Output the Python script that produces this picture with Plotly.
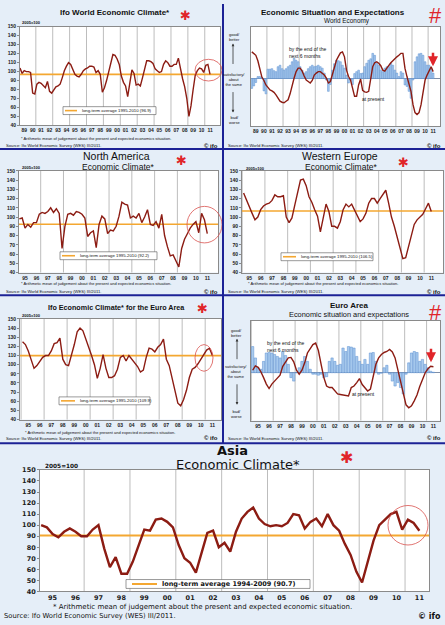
import plotly.graph_objects as go

W, H = 445, 625
FONT = "Liberation Sans"
WIDE = "DejaVu Sans"
DARKRED = "#8c1c13"
ORANGE = "#f4a731"
BARFILL = "#a9cbee"
BAREDGE = "#5b8fd1"
BG = "#e5eef8"
DIVIDER = "#1c2296"
AXIS = "#8a8a8a"

years_89 = list(range(1989, 2012))
years_95 = list(range(1995, 2012))

# quarterly values, first quarter of the first year up to Q3 2011
world_climate = [104, 98, 101, 100, 100, 99, 76, 75, 86, 88, 87, 84, 82, 89, 78, 76,
                 80, 83, 84, 86, 93, 101, 106, 110, 108, 102, 97, 95, 94, 97, 101, 103,
                 104, 106, 106, 105, 99, 101, 97, 77, 82, 90, 100, 107, 119, 118, 114, 108,
                 95, 88, 84, 72, 86, 102, 98, 85, 86, 84, 93, 103, 112, 112, 111, 109,
                 103, 101, 99, 100, 108, 112, 110, 106, 106, 108, 108, 115, 102, 92, 83, 70,
                 50, 62, 80, 96, 101, 104, 103, 99, 107, 108, 97]
world_expect = [-20, -15, -8, 4, 4, 2, -25, -31, 19, 19, 20, 16, 14, 24, 27, 20,
                17, 20, 24, 27, 34, 41, 37, 34, 24, 17, 11, 14, 20, 24, 27, 24,
                25, 27, 24, 21, 11, -3, -26, -12, 17, 30, 37, 36, 34, 27, 21, 7,
                -9, -3, -12, 10, 14, 17, 10, 11, 24, 31, 37, 40, 51, 47, 31, 27,
                17, 14, 21, 24, 24, 31, 27, 17, 11, 4, 14, 11, -13, -16, -26, -40,
                -3, 34, 44, 50, 51, 47, 34, 27, 27, 21, 11]
world_present = [54, 51, 47, 36, 17, 3, -4, -13, -18, -23, -25, -28, -33, -41, -46, -48,
                 -49, -46, -43, -31, -13, 1, 14, 21, 21, 15, 5, -3, -6, -9, -4, 7,
                 11, 14, 14, 11, 7, 1, -9, -6, 7, 23, 37, 45, 52, 54, 44, 17,
                 4, -3, -19, -36, -36, -13, -1, -24, -27, -28, -26, 4, 24, 32, 34, 31,
                 26, 17, 15, 21, 27, 32, 36, 41, 44, 47, 51, 51, 21, 4, -9, -26,
                 -53, -69, -73, -69, -53, -29, -3, 7, 17, 24, 14]
na_climate = [98, 99, 88, 92, 89, 94, 94, 103, 105, 104, 106, 110, 105, 109, 104, 66,
              90, 103, 104, 102, 106, 105, 103, 99, 79, 83, 85, 67, 92, 101, 98, 82,
              86, 85, 90, 101, 116, 114, 113, 99, 101, 99, 104, 94, 100, 108, 92, 91,
              95, 88, 103, 80, 68, 58, 59, 52, 46, 66, 76, 82, 88, 92, 95, 83,
              104, 97, 82]
we_climate = [126, 118, 111, 104, 97, 100, 108, 112, 114, 115, 118, 124, 122, 122, 123, 100,
              94, 99, 113, 126, 140, 141, 134, 122, 116, 108, 101, 84, 100, 114, 106, 90,
              90, 88, 95, 108, 114, 111, 114, 108, 101, 95, 98, 104, 115, 120, 120, 115,
              120, 125, 129, 115, 100, 90, 79, 66, 55, 56, 68, 80, 92, 97, 100, 103,
              109, 115, 106]
ea_climate = [125, 122, 115, 105, 96, 99, 104, 108, 110, 110, 115, 123, 124, 129, 106, 100,
              99, 110, 122, 136, 140, 137, 128, 121, 110, 100, 85, 96, 111, 96, 86, 86,
              88, 95, 108, 110, 104, 110, 106, 102, 98, 92, 94, 108, 118, 117, 114, 119,
              122, 128, 106, 99, 85, 71, 58, 55, 62, 72, 86, 95, 97, 101, 106, 112,
              116, 118, 110]
ea_expect = [53, 30, 10, 7, 23, 40, 41, 40, 37, 33, 30, 43, 35, 17, -10, -17,
             0, 10, 23, 33, 23, 7, -3, -3, -5, -3, -10, -8, 23, 30, 23, 15,
             17, 50, 43, 53, 52, 50, 33, 23, 17, 27, 17, 40, 41, 23, -3, -1,
             10, 15, -3, -17, -27, -20, -30, -43, -3, 20, 40, 43, 41, 23, 27, 17,
             10, 3, 1]
ea_present = [5, 14, 11, 2, -10, -23, -32, -23, -17, -12, -5, 13, 21, 30, 31, 22,
              5, -3, 5, 20, 40, 48, 57, 60, 45, 17, -10, -27, -30, -30, -37, -43,
              -44, -45, -47, -47, -30, -27, -20, -12, -24, -30, -37, -33, -10, 17, 30, 37,
              41, 43, 47, 42, 30, 5, -20, -47, -65, -71, -67, -57, -45, -28, -12, 0,
              8, 13, 12]
asia_climate = [100, 98, 92, 89, 94, 97, 94, 90, 90, 96, 100, 79, 62, 71, 56, 56,
                67, 82, 96, 95, 105, 106, 103, 98, 82, 70, 66, 57, 75, 93, 95, 80,
                84, 76, 94, 106, 112, 116, 106, 101, 99, 100, 99, 102, 110, 109, 97, 103,
                106, 99, 110, 100, 95, 83, 73, 58, 48, 68, 86, 100, 105, 110, 112, 96,
                105, 102, 95]

avg_world = 96.9
avg_na = 92.2
avg_we = 106.5
avg_ea = 109.9
avg_asia = 90.7


def qx(start, n):
    return [start + i / 4 for i in range(n)]


def px(x):
    return x / W


def py(y):
    return 1 - y / H


fig = go.Figure()
shapes = []
annotations = []


def txt(x, y, s, size, bold=False, xanchor="center", family=FONT, color="#111", align="center"):
    annotations.append(dict(
        x=px(x), y=py(y), xref="paper", yref="paper", text=s, showarrow=False,
        xanchor=xanchor, yanchor="middle", align=align,
        font=dict(family=family, size=size, color=color, weight="bold" if bold else "normal")))


def arrow(x, y, dy, color, width, size):
    annotations.append(dict(
        x=px(x), y=py(y), xref="paper", yref="paper", text="", showarrow=True,
        ax=0, ay=dy, arrowhead=2, arrowsize=size, arrowwidth=width, arrowcolor=color))


def add_axes(i, box, xr, years, yr=(40, 150), climate=True, fsize=5, family=FONT):
    x0, x1, y0, y1 = box
    xr_name = "x" if i == 1 else f"x{i}"
    yr_name = "y" if i == 1 else f"y{i}"
    tf = dict(family=family, size=fsize, color="#1a1a1a", weight="bold")
    fig.layout["xaxis" if i == 1 else f"xaxis{i}"] = dict(
        domain=[px(x0), px(x1)], range=list(xr), anchor=yr_name,
        tickvals=[y + 0.5 for y in years], ticktext=[f"{y % 100:02d}" for y in years],
        showgrid=False, zeroline=False, showline=True, mirror=True, linecolor=AXIS,
        linewidth=1, ticks="", tickfont=tf, fixedrange=True)
    ydict = dict(
        domain=[py(y1), py(y0)], range=list(yr), anchor=xr_name, showgrid=False,
        showline=True, mirror=True, linecolor=AXIS, linewidth=1, fixedrange=True)
    if climate:
        ydict.update(tickvals=list(range(40, 151, 10)), ticks="outside", ticklen=2,
                     tickcolor=AXIS, tickfont=tf, zeroline=False)
    else:
        ydict.update(showticklabels=False, ticks="", zeroline=True,
                     zerolinecolor="#7f8fa8", zerolinewidth=1)
    fig.layout["yaxis" if i == 1 else f"yaxis{i}"] = ydict
    # vertical grid lines every second year
    for g in years:
        if g % 2 == 1 and xr[0] < g - 0.125 < xr[1]:
            shapes.append(dict(type="line", xref=xr_name, yref=f"{yr_name} domain",
                               x0=g - 0.125, x1=g - 0.125, y0=0, y1=1, layer="below",
                               line=dict(color="#bdbdbd", width=1)))
    return xr_name, yr_name


def avg_line(xn, yn, value, width=1.6):
    shapes.append(dict(type="line", xref=f"{xn} domain", yref=yn, x0=0, x1=1,
                       y0=value, y1=value, layer="below", line=dict(color=ORANGE, width=width)))


def legend_box(x0, x1, y0, y1, lx0, lx1, label, size, bold=False, family=FONT, lw=1.6):
    shapes.append(dict(type="rect", xref="paper", yref="paper", x0=px(x0), x1=px(x1),
                       y0=py(y1), y1=py(y0), fillcolor="white", line=dict(color="#555", width=0.6)))
    ym = (y0 + y1) / 2
    shapes.append(dict(type="line", xref="paper", yref="paper", x0=px(lx0), x1=px(lx1),
                       y0=py(ym), y1=py(ym), line=dict(color=ORANGE, width=lw)))
    txt(lx1 + 3, ym, label, size, bold=bold, xanchor="left", family=family)


def circle(x0, x1, y0, y1):
    shapes.append(dict(type="circle", xref="paper", yref="paper", x0=px(x0), x1=px(x1),
                       y0=py(y1), y1=py(y0), line=dict(color="#d9534f", width=0.8)))


def climate_line(xn, yn, start, values, width=1.4):
    fig.add_trace(go.Scatter(x=qx(start, len(values)), y=values, xaxis=xn, yaxis=yn,
                             mode="lines", line=dict(color=DARKRED, width=width),
                             hoverinfo="skip"))


def situation(xn, yn, start, expect, present):
    fig.add_trace(go.Bar(x=qx(start, len(expect)), y=expect, xaxis=xn, yaxis=yn, width=0.21,
                         marker=dict(color=BARFILL, line=dict(color=BAREDGE, width=0.5)),
                         hoverinfo="skip"))
    fig.add_trace(go.Scatter(x=qx(start, len(present)), y=present, xaxis=xn, yaxis=yn,
                             mode="lines", line=dict(color=DARKRED, width=1.4), hoverinfo="skip"))


FOOT = "* Arithmetic mean of judgement about the present and expected economics situation."
SOURCE = "Source: Ifo World Economic Survey (WES) III/2011."
STAR = "✱"

# ---- panel 1: ifo world economic climate
xn, yn = add_axes(1, (20, 220, 23, 123), (1989.0, 2012.68), years_89)
avg_line(xn, yn, avg_world)
climate_line(xn, yn, 1989, world_climate)
txt(115, 9, "Ifo World Economic Climate*", 8, bold=True)
txt(185, 12, STAR, 13, family=WIDE, color="#e0252a")
txt(20, 19, "2005=100", 4, bold=True, xanchor="left")
legend_box(63, 156, 104, 112, 65, 77, "long-term average 1995-2010 (96.9)", 4.3)
circle(195, 222, 56, 78)
txt(96, 136, FOOT, 4)
txt(4, 143, SOURCE, 4.2, xanchor="left")
txt(220, 144, "© ifo", 6, bold=True, xanchor="right")

# ---- panel 2: world economy, situation and expectations
xn, yn = add_axes(2, (251, 440, 23, 124), (1988.9, 2012.35), years_89, yr=(-97, 105), climate=False)
situation(xn, yn, 1989, world_expect, world_present)
txt(333, 9, "Economic Situation and Expectations", 8, bold=True)
txt(347, 17, "World Economy", 6.4)
txt(435, 12, "#", 22, color="#e0252a")
arrow(433, 63, -15, "#e0252a", 2.5, 0.8)
txt(287, 49, "by the end of the<br>next 6 months", 5, xanchor="left", align="left")
txt(360, 96, "at present", 5, xanchor="left")
txt(234, 33, "good/<br>better", 4)
txt(234, 76, "satisfactory/<br>about<br>the same", 4)
txt(234, 118, "bad/<br>worse", 4)
arrow(233, 40, 22, "#333", 0.8, 0.7)
arrow(233, 110, -22, "#333", 0.8, 0.7)
txt(226, 143, SOURCE, 4.2, xanchor="left")
txt(443, 144, "© ifo", 6, bold=True, xanchor="right")

# ---- panel 3: north america
xn, yn = add_axes(3, (19, 218, 169, 272), (1994.97, 2012.44), years_95)
avg_line(xn, yn, avg_na)
climate_line(xn, yn, 1995, na_climate)
txt(116, 154, "North America", 10.5)
txt(118, 165, "Economic Climate*", 8.5)
txt(181, 159, STAR, 13, family=WIDE, color="#e0252a")
txt(20, 166, "2005=100", 4, bold=True, xanchor="left")
legend_box(60, 157, 251, 259, 62, 75, "long-term average 1995-2010 (92.2)", 4.3)
circle(187, 222, 205, 242)
txt(96, 283, FOOT, 4)
txt(4, 291, SOURCE, 4.2, xanchor="left")
txt(220, 292, "© ifo", 6, bold=True, xanchor="right")

# ---- panel 4: western europe
xn, yn = add_axes(4, (242, 443, 169, 272), (1994.86, 2012.53), years_95)
avg_line(xn, yn, avg_we)
climate_line(xn, yn, 1995, we_climate)
txt(340, 154, "Western Europe", 10.5)
txt(341, 165, "Economic Climate*", 8.5)
txt(403, 161, STAR, 13, family=WIDE, color="#e0252a")
txt(244, 167, "2005=100", 4, bold=True, xanchor="left")
legend_box(281, 373, 252, 260, 283, 296, "long-term average 1995-2010 (106.5)", 4.3)
txt(323, 283, FOOT, 4)
txt(226, 291, SOURCE, 4.2, xanchor="left")
txt(443, 292, "© ifo", 6, bold=True, xanchor="right")

# ---- panel 5: ifo economic climate for the euro area
xn, yn = add_axes(5, (20, 221, 319, 421), (1994.78, 2012.25), years_95)
avg_line(xn, yn, avg_ea)
climate_line(xn, yn, 1995, ea_climate)
txt(116, 307, "Ifo Economic Climate* for the Euro Area", 7.2, bold=True)
txt(202, 308, STAR, 13, family=WIDE, color="#e0252a")
txt(20, 316, "2005=100", 4, bold=True, xanchor="left")
legend_box(59, 150, 398, 406, 61, 75, "long-term average 1995-2010 (109.9)", 4.3)
circle(195, 213, 345, 372)
txt(100, 434, FOOT, 4)
txt(4, 440, SOURCE, 4.2, xanchor="left")
txt(220, 440, "© ifo", 6, bold=True, xanchor="right")

# ---- panel 6: euro area, situation and expectations
xn, yn = add_axes(6, (251, 440, 321, 422), (1994.85, 2012.1), years_95, yr=(-97, 105), climate=False)
situation(xn, yn, 1995, ea_expect, ea_present)
txt(349, 305, "Euro Area", 8, bold=True)
txt(349, 315, "Economic situation and expectations", 7.4)
txt(435, 312, "#", 22, color="#e0252a")
arrow(431, 363, -15, "#e0252a", 2.5, 0.8)
txt(265, 347, "by the end of the<br>next 6 months", 5, xanchor="left", align="left")
txt(350, 395, "at present", 5, xanchor="left")
txt(236, 333, "good/<br>better", 4)
txt(236, 372, "satisfactory/<br>about<br>the same", 4)
txt(236, 415, "bad/<br>worse", 4)
arrow(237, 339, 22, "#333", 0.8, 0.7)
arrow(237, 406, -22, "#333", 0.8, 0.7)
txt(226, 440, SOURCE, 4.2, xanchor="left")
txt(443, 440, "© ifo", 6, bold=True, xanchor="right")

# ---- panel 7: asia
xn, yn = add_axes(7, (40, 429, 472, 595), (1994.95, 2011.92), years_95, fsize=6.5, family=WIDE)
avg_line(xn, yn, avg_asia, width=2)
climate_line(xn, yn, 1995, asia_climate, width=2.4)
txt(232, 452, "Asia", 13, bold=True, family=WIDE)
txt(238, 466, "Economic Climate*", 13, family=WIDE)
txt(346, 459, STAR, 16, family=WIDE, color="#e0252a")
txt(43, 468, "2005=100", 5.8, bold=True, xanchor="left", family=WIDE)
legend_box(126, 310, 583, 592, 132, 157, "long-term average 1994-2009 (90.7)", 6.5, bold=True,
           family=WIDE, lw=2)
circle(388, 428, 508, 548)
txt(202, 611, FOOT.replace("economics", "economic"), 7, family=WIDE)
txt(2, 620, SOURCE, 6.8, xanchor="left", family=WIDE)
txt(443, 620, "© ifo", 8, bold=True, xanchor="right", family=WIDE)

# ---- panel dividers
for x0, y0, x1, y1 in [(223, 0, 223, 445), (0, 147, W, 147), (0, 295, W, 295), (0, 445, W, 445)]:
    shapes.append(dict(type="line", xref="paper", yref="paper", x0=px(x0), x1=px(x1),
                       y0=py(y0), y1=py(y1), line=dict(color=DIVIDER, width=2)))

fig.update_layout(
    width=W, height=H,
    margin=dict(l=0, r=0, t=0, b=0),
    paper_bgcolor=BG,
    plot_bgcolor="white",
    showlegend=False,
    barmode="overlay",
    shapes=shapes,
    annotations=annotations,
)

# the page body has a default margin; remove it so the figure fills the window
fig.write_html("out.html", config={"displayModeBar": False},
               post_script="document.body.style.margin='0';document.body.style.overflow='hidden';")
